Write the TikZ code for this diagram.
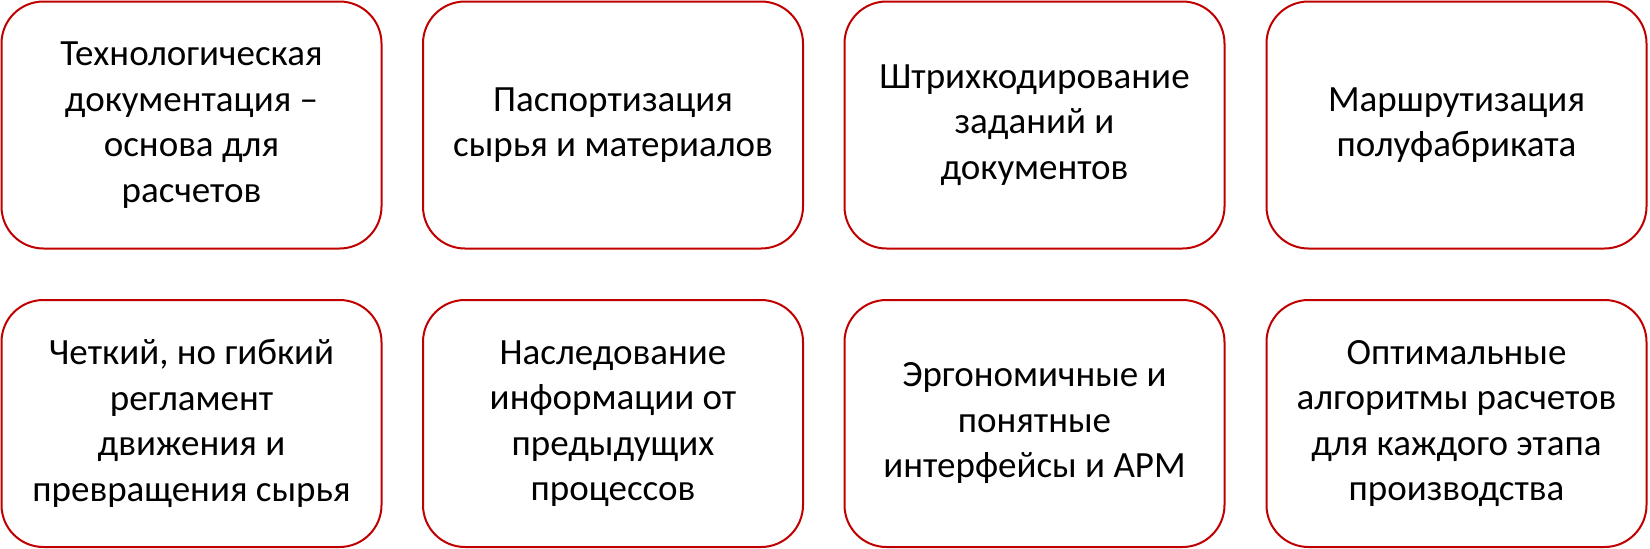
\documentclass[tikz,border=0pt]{standalone}
\usepackage{fontspec}
\setmainfont{Carlito}
\definecolor{boxred}{HTML}{C00000}
\begin{document}
\begin{tikzpicture}[x=1pt,y=-1pt,
  card/.style={draw=boxred, line width=2pt, rounded corners=42pt, fill=white,
    minimum width=380pt, minimum height=247pt, align=center,
    font=\fontsize{37}{45.5}\selectfont, inner sep=0pt}]
\useasboundingbox (0,0) rectangle (1650,549);
\node[card] (a1) at (191.5,125) {Технологическая\\документация –\\основа для\\расчетов};
\node[card] (a2) at (613,125) {Паспортизация\\сырья и материалов};
\node[card] (a3) at (1034.5,125) {Штрихкодирование\\заданий и\\документов};
\node[card] (a4) at (1456.5,125) {Маршрутизация\\полуфабриката};
\node[card] (b1) at (191.5,423.5) {Четкий, но гибкий\\регламент\\движения и\\превращения сырья};
\node[card] (b2) at (613,423.5) {Наследование\\информации от\\предыдущих\\процессов};
\node[card] (b3) at (1034.5,423.5) {Эргономичные и\\понятные\\интерфейсы и АРМ};
\node[card] (b4) at (1456.5,423.5) {Оптимальные\\алгоритмы расчетов\\для каждого этапа\\производства};
\end{tikzpicture}
\end{document}
